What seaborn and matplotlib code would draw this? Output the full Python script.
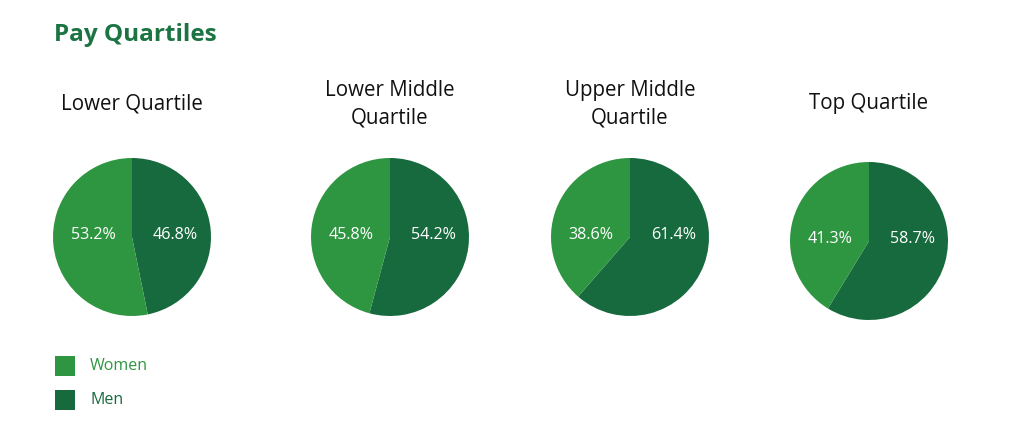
import matplotlib
matplotlib.use("Agg")
import matplotlib.pyplot as plt
import seaborn as sns
from matplotlib.patches import Rectangle

sns.set_theme(style="white")
plt.rcParams['font.family'] = ['Open Sans', 'DejaVu Sans']

quartiles = ["Lower Quartile", "Lower Middle\nQuartile", "Upper Middle\nQuartile", "Top Quartile"]
women = [53.2, 45.8, 38.6, 41.3]
men = [46.8, 54.2, 61.4, 58.7]
series = ["Women", "Men"]

LIGHT = "#2E9640"
DARK = "#176A3D"
TITLE = "#1B7442"

W, H = 1024, 438
fig = plt.figure(figsize=(W / 100, H / 100), dpi=100)
fig.patch.set_facecolor("white")

fig.text(54 / W, 1 - 35 / H, "Pay Quartiles", fontsize=17.5, fontweight="bold",
         color=TITLE, va="center", ha="left")

centers = [(132, 237), (390, 237), (630, 237), (869, 241)]
r = 79
for (cx, cy), title, w, m in zip(centers, quartiles, women, men):
    ax = fig.add_axes([(cx - r) / W, 1 - (cy + r) / H, 2 * r / W, 2 * r / H])
    wedges, texts, autotexts = ax.pie([m, w], colors=[DARK, LIGHT], startangle=90,
                                      counterclock=False, autopct="%.1f%%",
                                      pctdistance=0.5,
                                      wedgeprops=dict(linewidth=0),
                                      textprops=dict(color="white", fontsize=11.6))
    for t, off in zip(autotexts, [0.55, -0.49]):
        t.set_position((off, 0.02))
        t.set_ha("center")
        t.set_va("center")
    ax.set_xlim(-1.0, 1.0)
    ax.set_ylim(-1.0, 1.0)
    ax.set_aspect("equal")
    ax.axis("off")
    fig.text(cx / W, 1 - 104 / H, title, ha="center", va="center", fontsize=14.8,
             color="#111111", linespacing=1.4)

# legend
for i, (name, col) in enumerate(zip(series, [LIGHT, DARK])):
    y = 366 + i * 34
    fig.patches.append(Rectangle(((55) / W, 1 - (y + 10) / H), 20 / W, 20 / H,
                                 transform=fig.transFigure, facecolor=col, edgecolor="none"))
    fig.text(90 / W, 1 - y / H, name, fontsize=11.5, color=col, va="center", ha="left")

fig.savefig("out.png", dpi=100, facecolor="white")
